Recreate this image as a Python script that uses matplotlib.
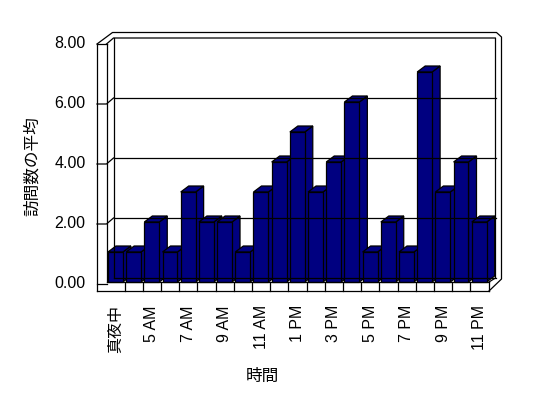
import matplotlib
matplotlib.use('Agg')
import matplotlib.pyplot as plt
from matplotlib.patches import Polygon, Rectangle

# データ（時間帯ごとの訪問数の平均）
hours = ['真夜中', '4 AM', '5 AM', '6 AM', '7 AM', '8 AM', '9 AM', '10 AM',
         '11 AM', '正午', '1 PM', '2 PM', '3 PM', '4 PM', '5 PM', '6 PM',
         '7 PM', '8 PM', '9 PM', '10 PM', '11 PM']
visits = [1, 1, 2, 1, 3, 2, 2, 1, 3, 4, 5, 3, 4, 6, 1, 2, 1, 7, 3, 4, 2]
yticks = [0, 2, 4, 6, 8]
ytick_labels = ['0.00', '2.00', '4.00', '6.00', '8.00']

plt.rcParams['font.family'] = ['Liberation Sans', 'Noto Sans CJK JP']

W, H = 548, 398
fig = plt.figure(figsize=(W / 100, H / 100), dpi=100)
# plot area in pixels (front plane of the bars)
ax_l, ax_r, ax_top, ax_bot = 106.5, 488.5, 42, 282
ax = fig.add_axes([ax_l / W, 1 - ax_bot / H, (ax_r - ax_l) / W, (ax_bot - ax_top) / H])
n = len(visits)
xmin, xmax = -0.5, n - 0.5
ymax = yticks[-1]
ax.set_xlim(xmin, xmax)
ax.set_ylim(0, ymax)
ax.axis('off')

PX = (xmax - xmin) / (ax_r - ax_l)   # data units per pixel, x
PY = ymax / (ax_bot - ax_top)          # data units per pixel, y (pixel y down)


def at(x, y, dx=0, dy=0):
    """data point shifted by dx, dy pixels (dy positive = down)"""
    return (x + dx * PX, y - dy * PY)


lw = 0.9
kw = dict(color='black', lw=lw, clip_on=False, solid_capstyle='projecting')


def line(pts, **extra):
    xs, ys = zip(*pts)
    ax.plot(xs, ys, **{**kw, **extra})


# back-wall plane shift and wall thickness (pixels)
bdx, bdy = 7, -4
wall = 9.5

# back wall
ax.add_patch(Polygon([at(xmin, 0, bdx, bdy), at(xmax, 0, bdx, bdy),
                      at(xmax, ymax, bdx, bdy), at(xmin, ymax, bdx, bdy)],
                     closed=True, fc='white', ec='none', clip_on=False))
for v in yticks[1:-1]:
    line([at(xmin, v, bdx, bdy), at(xmax, v, bdx, bdy)])
    # across the left wall
    line([at(xmin, v, -wall, 2), at(xmin, v, 0, 2), at(xmin, v, bdx, bdy)])

# wall / frame outlines
line([at(xmin, ymax, -wall, 2), at(xmin, 0, -wall, 9)])
line([at(xmin, ymax, 0, 2), at(xmin, 0, 0, 0)])
line([at(xmin, ymax, bdx, bdy), at(xmin, 0, bdx, bdy)])
line([at(xmin, ymax, -wall, 2), at(xmin, ymax, bdx - 1, bdy - 5.5),
      at(xmax, ymax, bdx + 1, bdy - 5.5), at(xmax, ymax, bdx + 6, bdy - 1),
      at(xmax, 0, bdx + 6, bdy + 1), at(xmax, 0, 0.5, 9)])
line([at(xmin, ymax, -wall, 2), at(xmin, ymax, 0, 2)])
line([at(xmin, ymax, 0, 2), at(xmin, ymax, bdx, bdy),
      at(xmax, ymax, bdx, bdy), at(xmax, 0, bdx, bdy)])
line([at(xmin, 0, bdx, bdy), at(xmax, 0, bdx, bdy)])
line([at(xmin, 0, -wall, 2), at(xmin, 0, 0, 2)])

# floor slab front
line([at(xmin, 0), at(xmax, 0, 0.5, 0)])
line([at(xmin, 0, -wall, 9), at(xmax, 0, 0.5, 9)])
line([at(xmax, 0, 0.5, 0), at(xmax, 0, 0.5, 9)])
line([at(xmax, 0, 0.5, 0), at(xmax, 0, bdx, bdy)])
for k in range(1, n):
    line([at(k - 0.5, 0), at(k - 0.5, 0, 0, 9)])

# bars
bw = 0.82
ddx, ddy = 8 * PX, 6 * PY
navy = '#000080'
for i, v in enumerate(visits):
    x0, x1 = i - 0.42, i - 0.42 + bw
    ax.add_patch(Polygon([(x1, 0), (x1 + ddx, ddy), (x1 + ddx, v + ddy), (x1, v)],
                         closed=True, fc=navy, ec='black', lw=lw, clip_on=False))
    ax.add_patch(Polygon([(x0, v), (x1, v), (x1 + ddx, v + ddy), (x0 + ddx, v + ddy)],
                         closed=True, fc=navy, ec='black', lw=lw, clip_on=False))
    ax.add_patch(Rectangle((x0, 0), bw, v, fc=navy, ec='black', lw=lw, clip_on=False))

# tick labels
for v, lab in zip(yticks, ytick_labels):
    x, y = at(xmin, v, -21, 1)
    ax.text(x, y, lab, ha='right', va='center', fontsize=11.5)

for i in range(0, n, 2):
    x, y = at(i, 0, 0, 23)
    ax.text(x, y, hours[i], rotation=90, ha='center', va='top', fontsize=11.5)

fig.text(262 / W, 1 - 376 / H, '時間', ha='center', va='center', fontsize=12)
fig.text(32 / W, 1 - 166 / H, '訪問数の平均', ha='center', va='center',
         rotation=90, fontsize=12)

fig.savefig('out.png', dpi=100)
